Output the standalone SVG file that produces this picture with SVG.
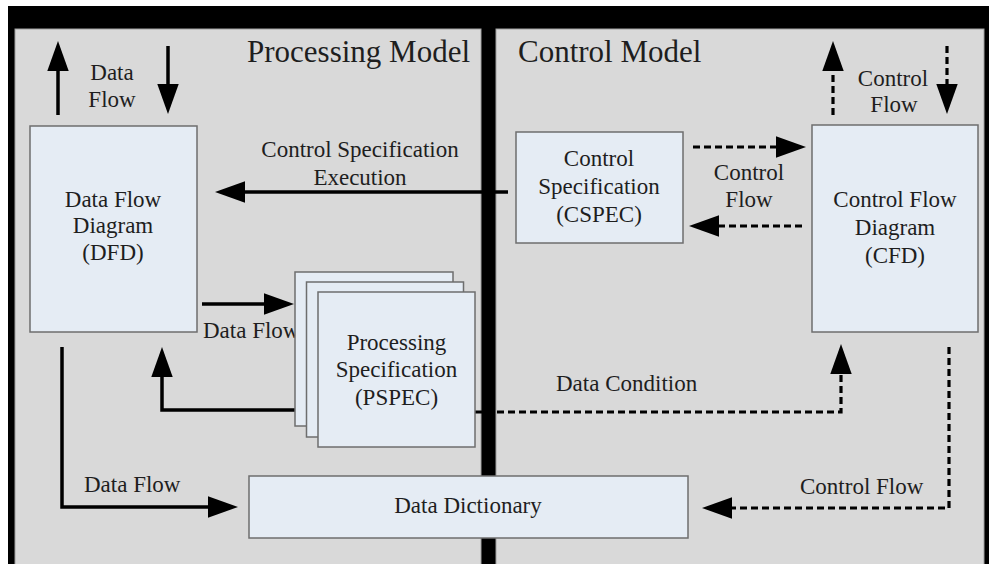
<svg xmlns="http://www.w3.org/2000/svg" width="989" height="564" viewBox="0 0 989 564">
<style>
.panel{fill:#d9d9d9;stroke:#a0a0a0;stroke-width:1}
.box{fill:#e5ecf4;stroke:#6e6e6e;stroke-width:1.5}
.t{font-family:"Liberation Serif","Times New Roman",serif;font-size:23px;fill:#1e1e1e}
.title{font-family:"Liberation Serif","Times New Roman",serif;font-size:31px;fill:#1e1e1e}
.c{text-anchor:middle}
.ln{fill:none;stroke:#000;stroke-width:3.5}
.dash{stroke-dasharray:7 4;stroke-width:3.2}
</style>
<defs>
<marker id="ah" markerUnits="userSpaceOnUse" markerWidth="30" markerHeight="22" viewBox="0 0 28 20" refX="14" refY="10" orient="auto">
<path d="M0,0 L28,10 L0,20 z" fill="#000"/>
</marker>
</defs>
<rect x="0" y="0" width="989" height="564" fill="#fff"/>
<rect x="8" y="6" width="981" height="558" fill="#000"/>
<rect class="panel" x="15" y="29" width="466" height="540"/>
<rect class="panel" x="496" y="29" width="488" height="540"/>
<text class="title" x="247" y="62">Processing Model</text>
<text class="title" x="518" y="62">Control Model</text>

<g id="connectors">
<line class="ln" x1="58" y1="115" x2="58" y2="56" marker-end="url(#ah)"/>
<line class="ln" x1="168" y1="46" x2="168" y2="99" marker-end="url(#ah)"/>
<line class="ln" x1="508" y1="192" x2="230" y2="192" marker-end="url(#ah)"/>
<line class="ln" x1="202" y1="304" x2="279" y2="304" marker-end="url(#ah)"/>
<path class="ln" d="M295,410 H162 V362" marker-end="url(#ah)"/>
<path class="ln" d="M62,347 V507 H223" marker-end="url(#ah)"/>
<line class="ln dash" x1="693" y1="147" x2="791" y2="147" marker-end="url(#ah)"/>
<line class="ln dash" x1="802" y1="226" x2="704" y2="226" marker-end="url(#ah)"/>
<line class="ln dash" x1="833" y1="115" x2="833" y2="56" marker-end="url(#ah)"/>
<line class="ln dash" x1="947" y1="46" x2="947" y2="99" marker-end="url(#ah)"/>
<path class="ln dash" d="M475,412 H841 V359" marker-end="url(#ah)"/>
<path class="ln dash" d="M949,347 V508 H717" marker-end="url(#ah)"/>
<text class="t c" x="112" y="80">Data</text>
<text class="t c" x="112" y="107">Flow</text>
<text class="t c" x="360" y="157">Control Specification</text>
<text class="t c" x="360" y="185">Execution</text>
<text class="t" x="203" y="338">Data Flow</text>
<text class="t" x="84" y="492">Data Flow</text>
<text class="t" x="556" y="391">Data Condition</text>
<text class="t" x="800" y="494">Control Flow</text>
<text class="t c" x="749" y="180">Control</text>
<text class="t c" x="749" y="207">Flow</text>
<text class="t c" x="893" y="86">Control</text>
<text class="t c" x="894" y="112">Flow</text>
</g>

<g id="dfd">
<rect class="box" x="30" y="126" width="167" height="206"/>
<text class="t c" x="113" y="207">Data Flow</text>
<text class="t c" x="113" y="233">Diagram</text>
<text class="t c" x="113" y="260">(DFD)</text>
</g>

<g id="pspec">
<rect class="box" x="295" y="272" width="158" height="154"/>
<rect class="box" x="306.5" y="282" width="157" height="155"/>
<rect class="box" x="318" y="292" width="157" height="155"/>
<text class="t c" x="396.5" y="350">Processing</text>
<text class="t c" x="396.5" y="377">Specification</text>
<text class="t c" x="396.5" y="405">(PSPEC)</text>
</g>

<g id="cspec">
<rect class="box" x="516" y="132" width="167" height="111"/>
<text class="t c" x="599" y="166">Control</text>
<text class="t c" x="599" y="194">Specification</text>
<text class="t c" x="599" y="222">(CSPEC)</text>
</g>

<g id="cfd">
<rect class="box" x="812" y="125" width="166" height="207"/>
<text class="t c" x="895" y="207">Control Flow</text>
<text class="t c" x="895" y="235">Diagram</text>
<text class="t c" x="895" y="263">(CFD)</text>
</g>

<g id="dd">
<rect class="box" x="249" y="476" width="439" height="62"/>
<text class="t c" x="468" y="513">Data Dictionary</text>
</g>
</svg>
